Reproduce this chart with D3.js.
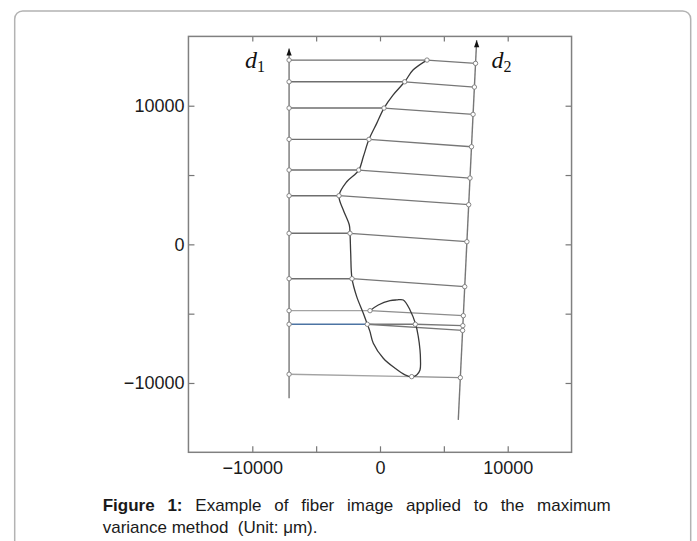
<!DOCTYPE html>
<html>
<head>
<meta charset="utf-8">
<script src="https://cdn.jsdelivr.net/npm/d3@7"></script>
<style>
  body { margin: 0; background: #fff; }
  svg { display: block; }
</style>
</head>
<body>
<div id="fig"></div>
<script>
// chart values (unit: um)
var xTicks = [-10000, -5000, 0, 5000, 10000];
var yTicks = [-10000, -5000, 0, 5000, 10000];
var tickLabels = [-10000, 0, 10000];

// the two reference axes d1 (vertical) and d2 (slanted)
var d1X = [-7120, -7120];
var d1Y = [-11100, 14130];
var d2X = [6130, 7570];
var d2Y = [-12660, 14730];

// rungs between d1 and d2, crossing the fiber
var rungLeftY  = [13292, 11727, 9831, 7574, 5361, 3508, 797, -2477, -4784, -5764, -9369];
var rungMidX   = [3680, 1934, 313, -861, -1668, -3210, -2349, -2192, -783, -994, 2482];
var rungMidY   = [13292, 11727, 9831, 7574, 5361, 3508, 797, -2477, -4784, -5764, -9543];
var rungRightY = [13054, 11345, 9377, 7041, 4784, 2859, 191, -3053, -5145, -5866, -9614];
// second crossing on rung 10 and its extra branch
var extraMid = [2764, -5764];
var extraBranchY = -6211;

// fiber outline, traced from top end down and around the loop
var fiberX = [3680, 2584, 1934, 1018, 313, -258, -861, -1308, -1668, -2607, -3210, -2874, -2404, -2349,
              -2294, -2192, -1824, -1308, -994, -783, -525, 258, 1175, 1958, 2482, 2874, 3132, 3171, 3132,
              2999, 2795, 2349, 1824, 1308, 783, -133, -783];
var fiberY = [13292, 12571, 11727, 10770, 9831, 8728, 7574, 6320, 5339, 4517, 3508, 2477, 1395, 797,
              -645, -2477, -3774, -4971, -5764, -6298, -7134, -8216, -8937, -9420, -9564, -9420, -9060, -8339, -7618,
              -6658, -5764, -4733, -4012, -4012, -4063, -4373, -4784];

var W = 697, H = 541;
var margin = {top: 36.4, left: 188.45};
var pw = 571.55 - 188.45, ph = 452.3 - 36.4;

function init() {
    var svg = d3.select("#fig").append("svg")
        .attr("width", W)
        .attr("height", H);

    // outer rounded box (open at the bottom)
    svg.append("path")
        .attr("d", "M14.7,548 V19 A8,8 0 0 1 22.7,11 H682.7 A8,8 0 0 1 690.7,19 V548")
        .attr("fill", "none")
        .attr("stroke", "#b3b3b3")
        .attr("stroke-width", 1.5);

    var g = svg.append("g")
        .attr("transform", "translate(" + margin.left + "," + margin.top + ")");

    var x = d3.scaleLinear().domain([-15000, 15000]).range([0, pw]);
    var y = d3.scaleLinear().domain([-15000, 15000]).range([ph, 0]);

    var fmt = function (d) { return tickLabels.indexOf(d) >= 0 ? d3.format("d")(d).replace("-", "\u2212") : ""; };

    // axes, ticks pointing inward
    g.append("g").attr("transform", "translate(0," + ph + ")")
        .call(d3.axisBottom(x).tickValues(xTicks).tickSize(-6).tickSizeOuter(0).tickPadding(9).tickFormat(fmt));
    g.append("g")
        .call(d3.axisLeft(y).tickValues(yTicks).tickSize(-6).tickSizeOuter(0).tickPadding(4).tickFormat(fmt));
    g.append("g")
        .call(d3.axisTop(x).tickValues(xTicks).tickSize(-5).tickSizeOuter(0).tickFormat(""));
    g.append("g").attr("transform", "translate(" + pw + ",0)")
        .call(d3.axisRight(y).tickValues(yTicks).tickSize(-6).tickSizeOuter(0).tickFormat(""));

    g.selectAll(".domain").remove();
    g.selectAll(".tick line").attr("stroke", "#777").attr("stroke-width", 1.2);
    g.selectAll(".tick text")
        .attr("fill", "#1a1a1a")
        .style("font-family", "'Liberation Sans', Arial, sans-serif")
        .style("font-size", "18px");

    g.append("rect")
        .attr("width", pw).attr("height", ph)
        .attr("fill", "none")
        .attr("stroke", "#808080")
        .attr("stroke-width", 1.5);

    // x position on d2 for a given y
    var d2At = d3.scaleLinear().domain(d2Y).range(d2X);

    var line = d3.line().x(function (d) { return x(d[0]); }).y(function (d) { return y(d[1]); });

    // rungs
    var leftColors = ["#6e6e6e", "#6e6e6e", "#6e6e6e", "#6e6e6e", "#6e6e6e", "#6e6e6e", "#6e6e6e", "#6e6e6e", "#a3a3a3", "#4d74a3", "#a3a3a3"];
    var rightColors = ["#777", "#777", "#777", "#777", "#777", "#777", "#777", "#777", "#8c8c8c", "#777", "#8c8c8c"];
    var pts = [];
    rungLeftY.forEach(function (ly, i) {
        var L = [d1X[0], ly], M = [rungMidX[i], rungMidY[i]], R = [d2At(rungRightY[i]), rungRightY[i]];
        g.append("path").attr("d", line([L, M])).attr("fill", "none")
            .attr("stroke", leftColors[i]).attr("stroke-width", 1.4);
        if (i === 9) {
            g.append("path").attr("d", line([M, extraMid, R])).attr("fill", "none")
                .attr("stroke", rightColors[i]).attr("stroke-width", 1.3);
            var R2 = [d2At(extraBranchY), extraBranchY];
            g.append("path").attr("d", line([M, R2])).attr("fill", "none")
                .attr("stroke", rightColors[i]).attr("stroke-width", 1.3);
            pts.push(extraMid, R2);
        } else {
            g.append("path").attr("d", line([M, R])).attr("fill", "none")
                .attr("stroke", rightColors[i]).attr("stroke-width", 1.3);
        }
        pts.push(L, M, R);
    });

    // d1 and d2 lines with arrow heads
    [[d1X, d1Y], [d2X, d2Y]].forEach(function (a) {
        g.append("path")
            .attr("d", line([[a[0][0], a[1][0]], [a[0][1], a[1][1]]]))
            .attr("fill", "none")
            .attr("stroke", "#777")
            .attr("stroke-width", 1.4);
        var tx = x(a[0][1]), ty = y(a[1][1]);
        g.append("path")
            .attr("d", "M" + tx + "," + ty + " l-2.6,7 h5.2 z")
            .attr("fill", "#111");
    });

    // fiber outline
    g.append("path")
        .datum(d3.zip(fiberX, fiberY))
        .attr("d", d3.line().x(function (d) { return x(d[0]); }).y(function (d) { return y(d[1]); })
            .curve(d3.curveCatmullRom.alpha(0.5)))
        .attr("fill", "none")
        .attr("stroke", "#3a3a3a")
        .attr("stroke-width", 1.3);

    // markers
    g.selectAll("circle.pt").data(pts).enter().append("circle")
        .attr("class", "pt")
        .attr("cx", function (d) { return x(d[0]); })
        .attr("cy", function (d) { return y(d[1]); })
        .attr("r", 2.2)
        .attr("fill", "#fff")
        .attr("stroke", "#7a7a7a")
        .attr("stroke-width", 0.9);

    // d1 / d2 labels
    var lab = [["d", "1", 245, 67.7], ["d", "2", 491.5, 68.3]];
    lab.forEach(function (l) {
        var t = svg.append("text")
            .attr("x", l[2]).attr("y", l[3])
            .style("font-family", "'Liberation Serif', 'DejaVu Serif', serif")
            .style("font-size", "24px")
            .attr("fill", "#111");
        t.append("tspan").style("font-style", "italic").text(l[0]);
        t.append("tspan").attr("dy", 4).style("font-size", "16px").text(l[1]);
    });

    // caption
    var cap = svg.append("g")
        .style("font-family", "'Liberation Sans', Arial, sans-serif")
        .style("font-size", "17px")
        .attr("fill", "#1a1a1a");
    var l1 = cap.append("text").attr("x", 102.7).attr("y", 511);
    l1.append("tspan").style("font-weight", "bold").text("Figure 1:");
    l1.append("tspan").text(" Example of fiber image applied to the maximum");
    var len = l1.node().getComputedTextLength();
    var gaps = 8;
    l1.style("word-spacing", Math.max(0, (602.7 - 102.7 - len) / gaps) + "px");
    cap.append("text").attr("x", 102.7).attr("y", 532.5)
        .style("white-space", "pre")
        .text("variance method  (Unit: \u03bcm).");
}

init();
</script>
</body>
</html>
